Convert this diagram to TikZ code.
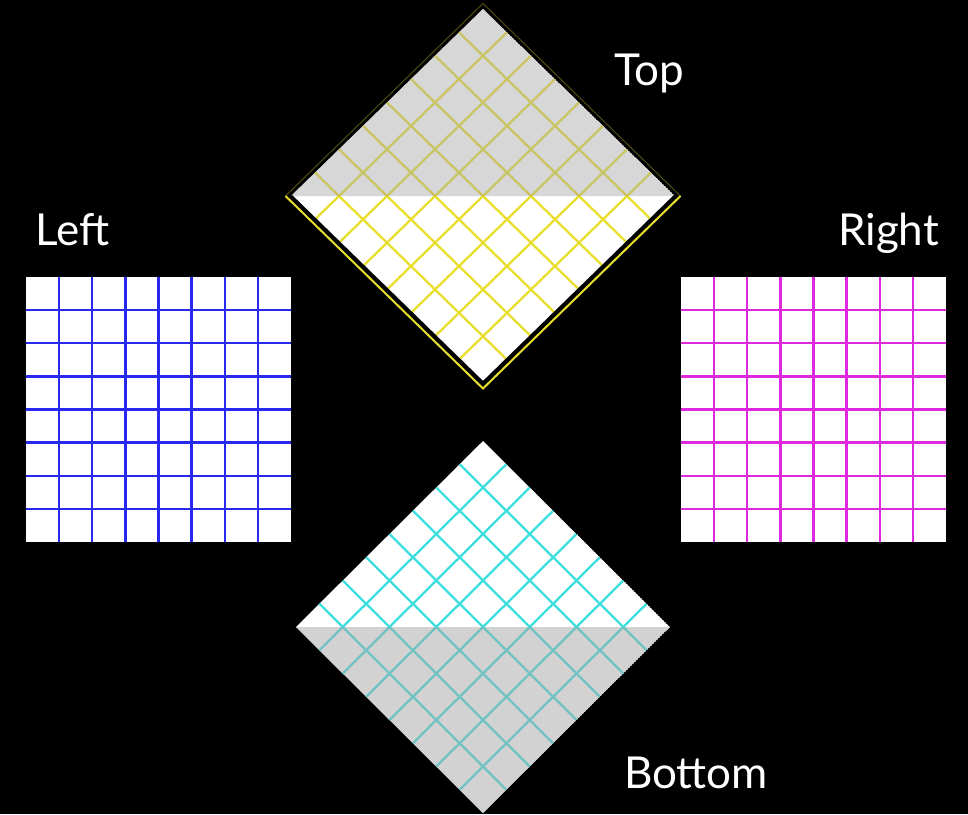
\documentclass[tikz,border=0pt]{standalone}
\usepackage{fontspec}
\setmainfont{Lato}
\usetikzlibrary{calc}
\definecolor{gridgray}{RGB}{167,167,167}
\definecolor{ylw}{RGB}{232,222,45}
\definecolor{cyn}{RGB}{60,222,222}
\definecolor{blu}{RGB}{40,40,240}
\definecolor{mag}{RGB}{222,40,222}
\begin{document}
\begin{tikzpicture}[x=1pt,y=-1pt,
  lbl/.style={text=white,font=\fontsize{44}{44}\selectfont,anchor=base west,inner sep=0pt},
  gridline/.style={line width=2.3pt},
  shade/.style={fill=gridgray,fill opacity=0.5}]
\fill[black] (0,0) rectangle (968,814);
\useasboundingbox (0,0) rectangle (968,814);

% Left square
\fill[white] (26,277) rectangle (291,542);
\foreach \i in {1,...,7} {
  \draw[blu,gridline] ({26+\i*265/8},277) -- ++(0,265);
  \draw[blu,gridline] (26,{277+\i*265/8}) -- ++(265,0);
}
% Right square
\fill[white] (681,277) rectangle (946,542);
\foreach \i in {1,...,7} {
  \draw[mag,gridline] ({681+\i*265/8},277) -- ++(0,265);
  \draw[mag,gridline] (681,{277+\i*265/8}) -- ++(265,0);
}

% Top diamond
\coordinate (tT) at (483,9);
\coordinate (tL) at (291,196);
\coordinate (tR) at (675,196);
\coordinate (tB) at (483,383);
\begin{scope}
  \clip (tT) -- (tR) -- (tB) -- (tL) -- cycle;
  \fill[white] (tT) -- (tR) -- (tB) -- (tL) -- cycle;
  \foreach \k in {1,...,7} {
    \draw[ylw,gridline] ($(tT)!\k/8!(tL)$) -- ($(tR)!\k/8!(tB)$);
    \draw[ylw,gridline] ($(tT)!\k/8!(tR)$) -- ($(tL)!\k/8!(tB)$);
  }
  \fill[shade,fill opacity=0.45] (tL) -- (tT) -- (tR) -- cycle;
\end{scope}
\draw[black,line width=3pt] (tL) -- (tB) -- (tR);
\draw[ylw,line width=2pt] ($(tL)+(-5.5,0)$) -- ($(tB)+(0,5.5)$) -- ($(tR)+(5.5,0)$);
\draw[ylw,line width=1.2pt,opacity=0.3] ($(tL)+(-5.5,0)$) -- ($(tT)+(0,-5.5)$) -- ($(tR)+(5.5,0)$);

% Bottom diamond
\coordinate (bT) at (483,441);
\coordinate (bL) at (296,627);
\coordinate (bR) at (670,627);
\coordinate (bB) at (483,813);
\begin{scope}
  \clip (bT) -- (bR) -- (bB) -- (bL) -- cycle;
  \fill[white] (bT) -- (bR) -- (bB) -- (bL) -- cycle;
  \foreach \k in {1,...,7} {
    \draw[cyn,gridline] ($(bT)!\k/8!(bL)$) -- ($(bR)!\k/8!(bB)$);
    \draw[cyn,gridline] ($(bT)!\k/8!(bR)$) -- ($(bL)!\k/8!(bB)$);
  }
  \fill[shade] (bL) -- (bB) -- (bR) -- cycle;
\end{scope}

% Labels
\node[lbl] (top) at (614,85) {Top};
\node[lbl] (left) at (35,245) {Left};
\node[lbl] (right) at (838,245) {Right};
\node[lbl] (bottom) at (624,788) {Bottom};
\end{tikzpicture}
\end{document}
